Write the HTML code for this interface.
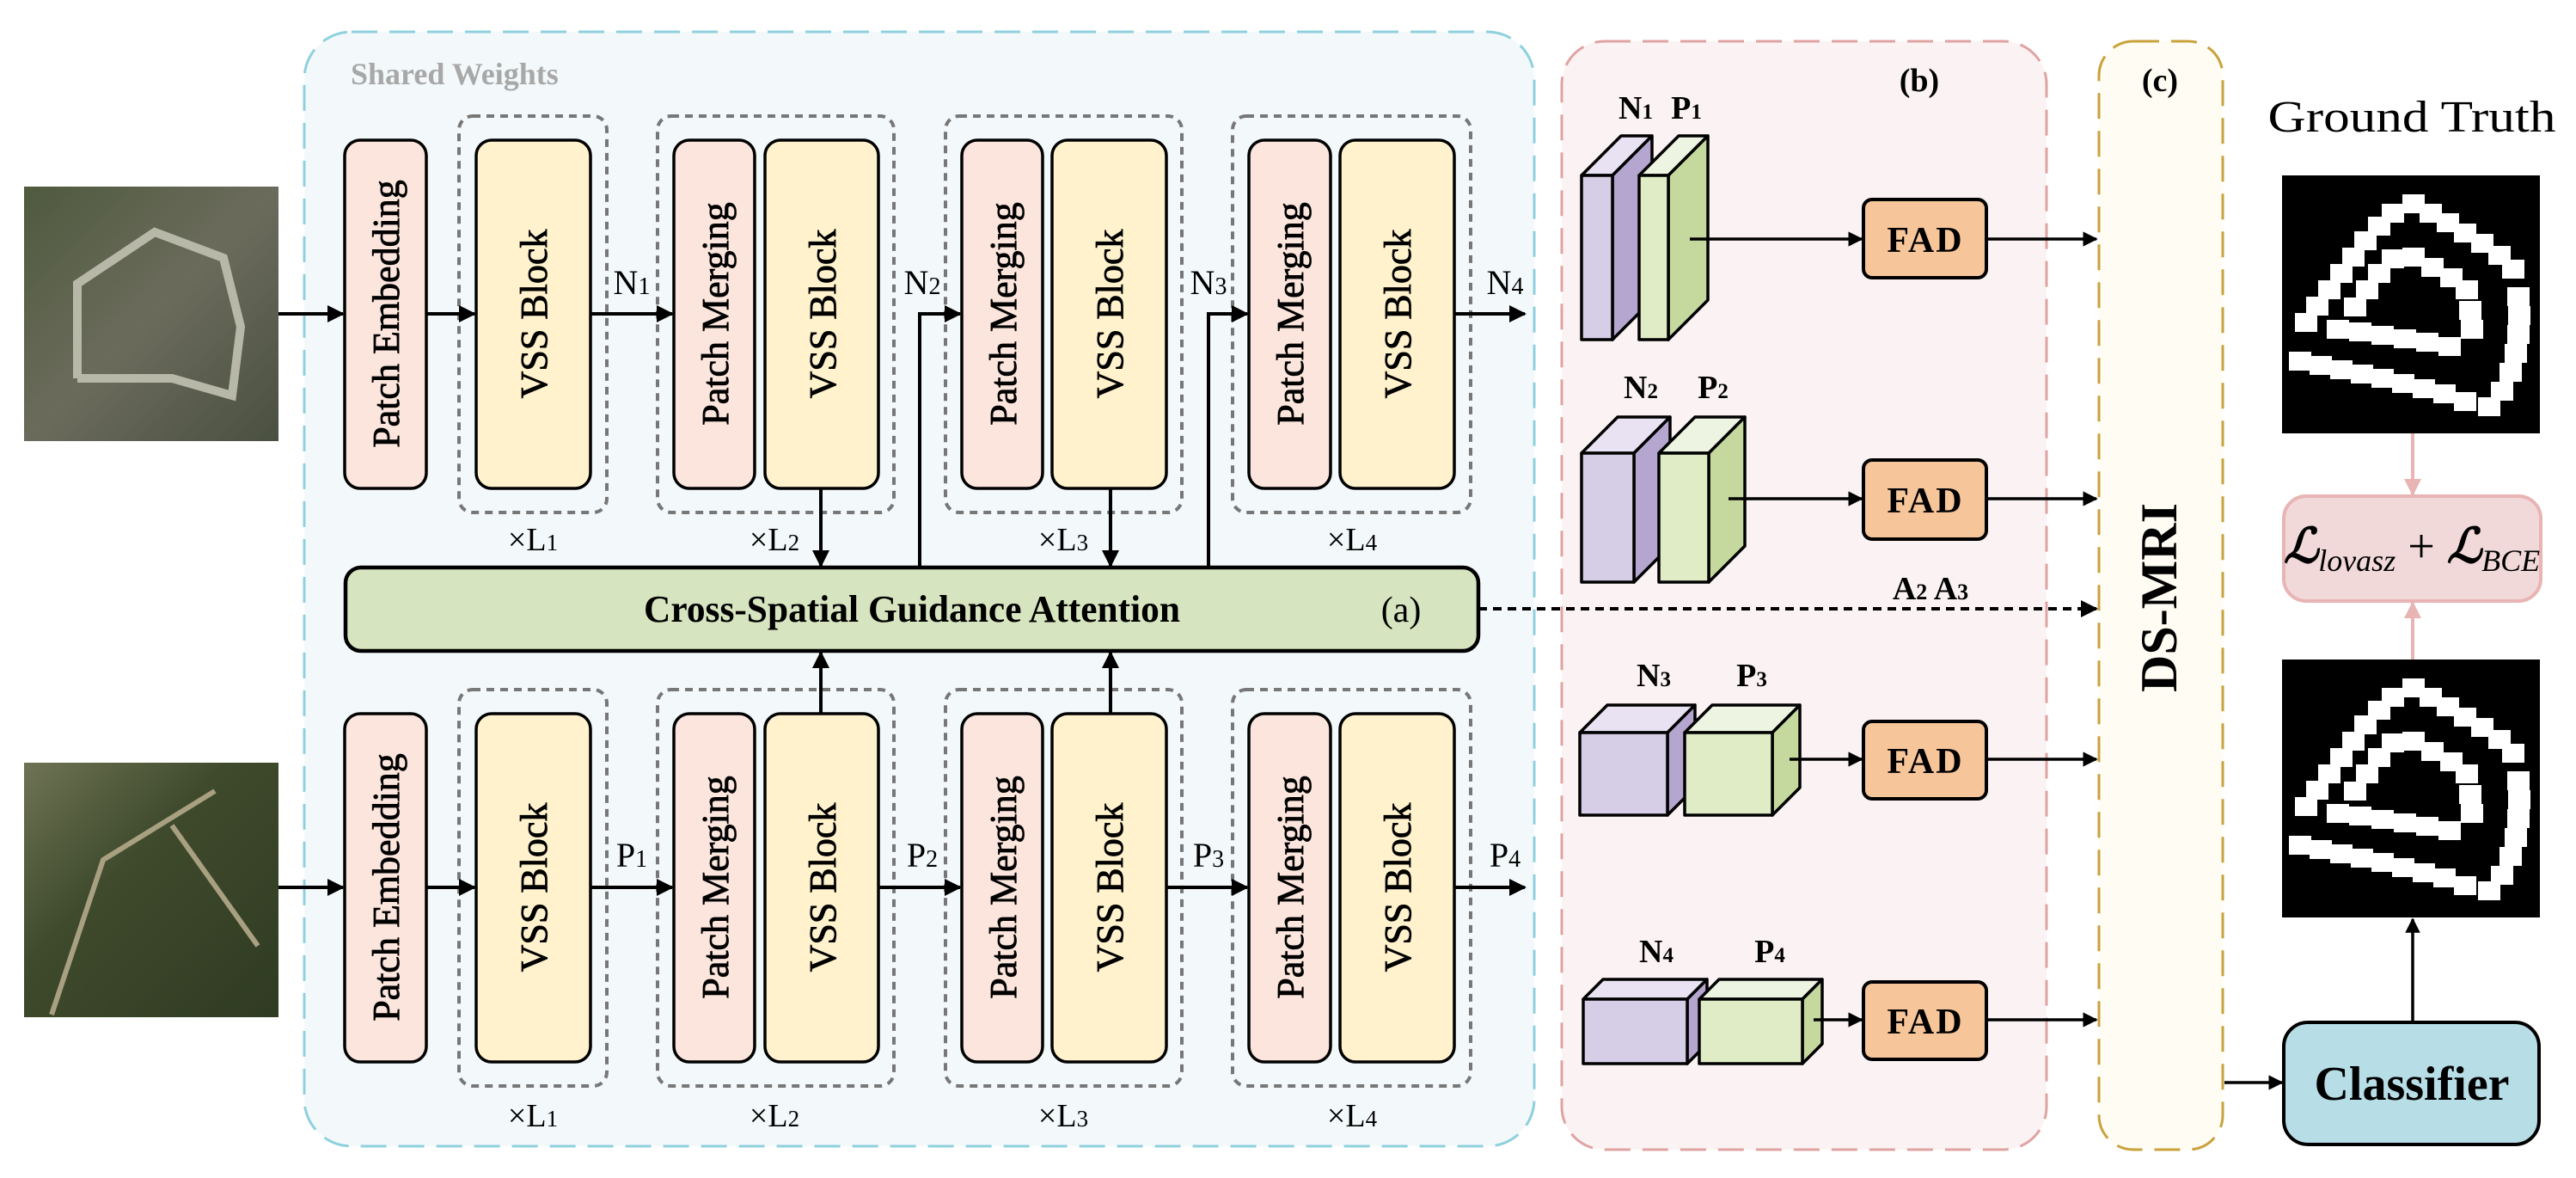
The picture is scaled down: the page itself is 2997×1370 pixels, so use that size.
<!DOCTYPE html>
<html><head><meta charset="utf-8"><style>
html,body{margin:0;padding:0;background:#fff}
svg{display:block}
text{font-family:"Liberation Serif",serif}
</style></head><body>
<svg width="2997" height="1370" viewBox="0 0 2997 1370" xmlns="http://www.w3.org/2000/svg">
<defs>
<marker id="ah" viewBox="0 0 10 10" refX="9" refY="5" markerWidth="5" markerHeight="5" orient="auto" markerUnits="strokeWidth"><path d="M0,0 L10,5 L0,10 z" fill="#000"/></marker>
<marker id="ahp" viewBox="0 0 10 10" refX="9" refY="5" markerWidth="5" markerHeight="5" orient="auto" markerUnits="strokeWidth"><path d="M0,0 L10,5 L0,10 z" fill="#e8b4b4"/></marker>
<g id="mask">
<rect x="0" y="0" width="300" height="300" fill="#000"/>
<g fill="#fff">
<rect x="15" y="160" width="26" height="22"/><rect x="28" y="141" width="26" height="22"/><rect x="42" y="122" width="26" height="22"/><rect x="56" y="103" width="26" height="22"/><rect x="70" y="84" width="26" height="22"/><rect x="84" y="65" width="26" height="22"/><rect x="100" y="48" width="26" height="22"/><rect x="116" y="33" width="26" height="22"/>
<rect x="140" y="22" width="26" height="22"/><rect x="160" y="33" width="26" height="22"/><rect x="180" y="44" width="26" height="22"/><rect x="200" y="56" width="26" height="22"/><rect x="220" y="68" width="26" height="22"/><rect x="240" y="82" width="26" height="22"/><rect x="256" y="98" width="26" height="22"/>
<rect x="262" y="130" width="26" height="22"/><rect x="263" y="152" width="26" height="22"/><rect x="262" y="174" width="26" height="22"/><rect x="259" y="196" width="26" height="22"/><rect x="253" y="218" width="26" height="22"/><rect x="243" y="240" width="26" height="22"/><rect x="228" y="258" width="26" height="22"/>
<rect x="8" y="205" width="26" height="22"/><rect x="32" y="210" width="26" height="22"/><rect x="56" y="215" width="26" height="22"/><rect x="80" y="220" width="26" height="22"/><rect x="104" y="225" width="26" height="22"/><rect x="128" y="231" width="26" height="22"/><rect x="152" y="237" width="26" height="22"/><rect x="176" y="243" width="26" height="22"/><rect x="200" y="252" width="26" height="22"/>
<rect x="72" y="142" width="26" height="22"/><rect x="86" y="122" width="26" height="22"/><rect x="100" y="103" width="26" height="22"/><rect x="116" y="86" width="26" height="22"/>
<rect x="140" y="84" width="26" height="22"/><rect x="162" y="96" width="26" height="22"/><rect x="184" y="108" width="26" height="22"/><rect x="202" y="122" width="26" height="22"/>
<rect x="206" y="146" width="26" height="22"/><rect x="208" y="168" width="26" height="22"/>
<rect x="52" y="168" width="26" height="22"/><rect x="78" y="171" width="26" height="22"/><rect x="104" y="175" width="26" height="22"/><rect x="130" y="179" width="26" height="22"/><rect x="156" y="183" width="26" height="22"/><rect x="182" y="188" width="26" height="22"/>
</g></g>
<linearGradient id="sat1" x1="0" y1="0" x2="1" y2="1"><stop offset="0" stop-color="#4f5a3e"/><stop offset="0.5" stop-color="#6b6b5c"/><stop offset="1" stop-color="#4a5040"/></linearGradient>
<linearGradient id="sat2" x1="0" y1="0" x2="1" y2="1"><stop offset="0" stop-color="#6f7355"/><stop offset="0.4" stop-color="#3f4a2c"/><stop offset="1" stop-color="#2f3b22"/></linearGradient>
</defs>

<rect x="354" y="37" width="1431" height="1296" rx="55" fill="#f3f9fa" stroke="#8fd0de" stroke-width="3" stroke-dasharray="30,14"/>
<text x="408" y="98" font-size="36" font-weight="bold" fill="#a8a8a8">Shared Weights</text>

<rect x="28" y="217" width="296" height="296" fill="url(#sat1)"/>
<path d="M90,440 L90,330 L180,270 L260,300 L280,380 L270,460 L200,440 L90,440" fill="none" stroke="#b8b8a8" stroke-width="10"/>
<rect x="28" y="887" width="296" height="296" fill="url(#sat2)"/>
<path d="M60,1180 L120,1000 L250,920 M200,960 L300,1100" fill="none" stroke="#a8a080" stroke-width="6"/>

<g stroke="#777" stroke-width="4" fill="none" stroke-dasharray="9,7">
<rect x="534" y="135" width="172" height="461" rx="16"/>
<rect x="765" y="135" width="275" height="461" rx="16"/>
<rect x="1100" y="135" width="275" height="461" rx="16"/>
<rect x="1434" y="135" width="277" height="461" rx="16"/>
<rect x="534" y="802" width="172" height="461" rx="16"/>
<rect x="765" y="802" width="275" height="461" rx="16"/>
<rect x="1100" y="802" width="275" height="461" rx="16"/>
<rect x="1434" y="802" width="277" height="461" rx="16"/>
</g>

<g stroke="#000" stroke-width="3.5">
<rect x="401" y="163" width="95" height="405" rx="18" fill="#fbe5dc"/>
<rect x="554" y="163" width="133" height="405" rx="18" fill="#fff2cc"/>
<rect x="784" y="163" width="94" height="405" rx="18" fill="#fbe5dc"/>
<rect x="890" y="163" width="132" height="405" rx="18" fill="#fff2cc"/>
<rect x="1119" y="163" width="94" height="405" rx="18" fill="#fbe5dc"/>
<rect x="1224" y="163" width="133" height="405" rx="18" fill="#fff2cc"/>
<rect x="1453" y="163" width="95" height="405" rx="18" fill="#fbe5dc"/>
<rect x="1559" y="163" width="133" height="405" rx="18" fill="#fff2cc"/>
<rect x="401" y="830" width="95" height="405" rx="18" fill="#fbe5dc"/>
<rect x="554" y="830" width="133" height="405" rx="18" fill="#fff2cc"/>
<rect x="784" y="830" width="94" height="405" rx="18" fill="#fbe5dc"/>
<rect x="890" y="830" width="132" height="405" rx="18" fill="#fff2cc"/>
<rect x="1119" y="830" width="94" height="405" rx="18" fill="#fbe5dc"/>
<rect x="1224" y="830" width="133" height="405" rx="18" fill="#fff2cc"/>
<rect x="1453" y="830" width="95" height="405" rx="18" fill="#fbe5dc"/>
<rect x="1559" y="830" width="133" height="405" rx="18" fill="#fff2cc"/>
<rect x="402" y="660" width="1318" height="97" rx="18" fill="#d6e4bf" stroke-width="4.5"/>
</g>

<g font-size="44" text-anchor="middle" fill="#000" stroke="#000" stroke-width="0.8">
<text transform="translate(464,365) rotate(-90)">Patch Embedding</text>
<text transform="translate(636,365) rotate(-90)">VSS Block</text>
<text transform="translate(847,365) rotate(-90)">Patch Merging</text>
<text transform="translate(972,365) rotate(-90)">VSS Block</text>
<text transform="translate(1182,365) rotate(-90)">Patch Merging</text>
<text transform="translate(1306,365) rotate(-90)">VSS Block</text>
<text transform="translate(1516,365) rotate(-90)">Patch Merging</text>
<text transform="translate(1641,365) rotate(-90)">VSS Block</text>
<text transform="translate(464,1032) rotate(-90)">Patch Embedding</text>
<text transform="translate(636,1032) rotate(-90)">VSS Block</text>
<text transform="translate(847,1032) rotate(-90)">Patch Merging</text>
<text transform="translate(972,1032) rotate(-90)">VSS Block</text>
<text transform="translate(1182,1032) rotate(-90)">Patch Merging</text>
<text transform="translate(1306,1032) rotate(-90)">VSS Block</text>
<text transform="translate(1516,1032) rotate(-90)">Patch Merging</text>
<text transform="translate(1641,1032) rotate(-90)">VSS Block</text>
</g>
<text x="1061" y="723" font-size="44" font-weight="bold" text-anchor="middle" textLength="624" lengthAdjust="spacingAndGlyphs">Cross-Spatial Guidance Attention</text>
<text x="1630" y="723" font-size="42" text-anchor="middle">(a)</text>

<g font-size="38" text-anchor="middle">
<text x="620" y="640">×L<tspan font-size="27">1</tspan></text>
<text x="901" y="640">×L<tspan font-size="27">2</tspan></text>
<text x="1237" y="640">×L<tspan font-size="27">3</tspan></text>
<text x="1573" y="640">×L<tspan font-size="27">4</tspan></text>
<text x="620" y="1310">×L<tspan font-size="27">1</tspan></text>
<text x="901" y="1310">×L<tspan font-size="27">2</tspan></text>
<text x="1237" y="1310">×L<tspan font-size="27">3</tspan></text>
<text x="1573" y="1310">×L<tspan font-size="27">4</tspan></text>
</g>
<g font-size="40" text-anchor="middle">
<text x="735" y="342">N<tspan font-size="28">1</tspan></text>
<text x="1073" y="342">N<tspan font-size="28">2</tspan></text>
<text x="1406" y="342">N<tspan font-size="28">3</tspan></text>
<text x="1751" y="342">N<tspan font-size="28">4</tspan></text>
<text x="735" y="1008">P<tspan font-size="28">1</tspan></text>
<text x="1073" y="1008">P<tspan font-size="28">2</tspan></text>
<text x="1406" y="1008">P<tspan font-size="28">3</tspan></text>
<text x="1751" y="1008">P<tspan font-size="28">4</tspan></text>
</g>

<g stroke="#000" stroke-width="4" fill="none" marker-end="url(#ah)">
<line x1="324" y1="365" x2="399" y2="365"/>
<line x1="496" y1="365" x2="552" y2="365"/>
<line x1="687" y1="365" x2="782" y2="365"/>
<polyline points="1070,660 1070,365 1117,365"/>
<polyline points="1406,660 1406,365 1451,365"/>
<line x1="1692" y1="365" x2="1774" y2="365"/>
<line x1="955" y1="568" x2="955" y2="658"/>
<line x1="1292" y1="568" x2="1292" y2="658"/>
<line x1="955" y1="830" x2="955" y2="759"/>
<line x1="1292" y1="830" x2="1292" y2="759"/>
<line x1="324" y1="1032" x2="399" y2="1032"/>
<line x1="496" y1="1032" x2="552" y2="1032"/>
<line x1="687" y1="1032" x2="782" y2="1032"/>
<line x1="1022" y1="1032" x2="1117" y2="1032"/>
<line x1="1357" y1="1032" x2="1451" y2="1032"/>
<line x1="1692" y1="1032" x2="1774" y2="1032"/>
</g>

<rect x="1817" y="48" width="564" height="1289" rx="50" fill="#fbf3f3" stroke="#e0a3a3" stroke-width="3" stroke-dasharray="30,14"/>
<text x="2233" y="106" font-size="38" font-weight="bold" text-anchor="middle">(b)</text>
<rect x="2442" y="48" width="144" height="1289" rx="40" fill="#fffdf3" stroke="#c9a23c" stroke-width="3" stroke-dasharray="30,14"/>
<text x="2513" y="106" font-size="38" font-weight="bold" text-anchor="middle">(c)</text>
<text transform="translate(2532,695) rotate(-90)" font-size="60" font-weight="bold" text-anchor="middle">DS-MRI</text>

<line x1="1720" y1="708" x2="2439" y2="708" stroke="#000" stroke-width="4" stroke-dasharray="10,7" marker-end="url(#ah)"/>
<text x="2246" y="697" font-size="38" font-weight="bold" text-anchor="middle">A<tspan font-size="26">2</tspan> A<tspan font-size="26">3</tspan></text>

<g stroke="#000" stroke-width="3.5" stroke-linejoin="round">
<polygon points="1840,204 1886,158 1922,158 1876,204" fill="#e8e2f2"/>
<polygon points="1876,204 1922,158 1922,349 1876,395" fill="#b5a6d0"/>
<rect x="1840" y="204" width="36" height="191" fill="#d6cde6"/>
<polygon points="1907,204 1953,158 1987,158 1941,204" fill="#eef4e2"/>
<polygon points="1941,204 1987,158 1987,349 1941,395" fill="#c5d99e"/>
<rect x="1907" y="204" width="34" height="191" fill="#e0ecc6"/>
<polygon points="1840,527 1882,485 1943,485 1901,527" fill="#e8e2f2"/>
<polygon points="1901,527 1943,485 1943,635 1901,677" fill="#b5a6d0"/>
<rect x="1840" y="527" width="61" height="150" fill="#d6cde6"/>
<polygon points="1930,527 1972,485 2030,485 1988,527" fill="#eef4e2"/>
<polygon points="1988,527 2030,485 2030,635 1988,677" fill="#c5d99e"/>
<rect x="1930" y="527" width="58" height="150" fill="#e0ecc6"/>
<polygon points="1838,852 1870,820 1972,820 1940,852" fill="#e8e2f2"/>
<polygon points="1940,852 1972,820 1972,916 1940,948" fill="#b5a6d0"/>
<rect x="1838" y="852" width="102" height="96" fill="#d6cde6"/>
<polygon points="1960,852 1992,820 2094,820 2062,852" fill="#eef4e2"/>
<polygon points="2062,852 2094,820 2094,916 2062,948" fill="#c5d99e"/>
<rect x="1960" y="852" width="102" height="96" fill="#e0ecc6"/>
<polygon points="1842,1162 1865,1139 1986,1139 1963,1162" fill="#e8e2f2"/>
<polygon points="1963,1162 1986,1139 1986,1214 1963,1237" fill="#b5a6d0"/>
<rect x="1842" y="1162" width="121" height="75" fill="#d6cde6"/>
<polygon points="1977,1162 2000,1139 2120,1139 2097,1162" fill="#eef4e2"/>
<polygon points="2097,1162 2120,1139 2120,1214 2097,1237" fill="#c5d99e"/>
<rect x="1977" y="1162" width="120" height="75" fill="#e0ecc6"/>
</g>
<g font-size="38" font-weight="bold" text-anchor="middle">
<text x="1903" y="138">N<tspan font-size="25">1</tspan></text><text x="1962" y="138">P<tspan font-size="25">1</tspan></text>
<text x="1909" y="463">N<tspan font-size="25">2</tspan></text><text x="1993" y="463">P<tspan font-size="25">2</tspan></text>
<text x="1924" y="798">N<tspan font-size="25">3</tspan></text><text x="2038" y="798">P<tspan font-size="25">3</tspan></text>
<text x="1927" y="1119">N<tspan font-size="25">4</tspan></text><text x="2059" y="1119">P<tspan font-size="25">4</tspan></text>
</g>

<g stroke="#000" stroke-width="4" fill="#f7c59a">
<rect x="2168" y="232" width="143" height="91" rx="10"/>
<rect x="2168" y="535" width="143" height="92" rx="10"/>
<rect x="2168" y="839" width="143" height="90" rx="10"/>
<rect x="2168" y="1142" width="143" height="90" rx="10"/>
</g>
<g font-size="42" font-weight="bold" text-anchor="middle" letter-spacing="2">
<text x="2240" y="293">FAD</text><text x="2240" y="596">FAD</text><text x="2240" y="899">FAD</text><text x="2240" y="1202">FAD</text>
</g>
<g stroke="#000" stroke-width="3.5" fill="none" marker-end="url(#ah)">
<line x1="1966" y1="278" x2="2166" y2="278"/>
<line x1="2011" y1="580" x2="2166" y2="580"/>
<line x1="2082" y1="883" x2="2166" y2="883"/>
<line x1="2110" y1="1186" x2="2166" y2="1186"/>
<line x1="2311" y1="278" x2="2439" y2="278"/>
<line x1="2311" y1="580" x2="2439" y2="580"/>
<line x1="2311" y1="883" x2="2439" y2="883"/>
<line x1="2311" y1="1186" x2="2439" y2="1186"/>
<line x1="2588" y1="1259" x2="2655" y2="1259"/>
<line x1="2807" y1="1189" x2="2807" y2="1069"/>
</g>

<text x="2806" y="153" font-size="52" text-anchor="middle" textLength="335" lengthAdjust="spacingAndGlyphs">Ground Truth</text>
<use href="#mask" transform="translate(2655,204)"/>
<use href="#mask" transform="translate(2655,767)"/>
<g stroke="#e8b4b4" stroke-width="4" fill="none" marker-end="url(#ahp)">
<line x1="2807" y1="504" x2="2807" y2="575"/>
<line x1="2807" y1="767" x2="2807" y2="701"/>
</g>
<rect x="2657" y="577" width="299" height="122" rx="26" fill="#f2d9d9" stroke="#e8b4b4" stroke-width="4"/>
<text x="2806" y="654" font-size="56" text-anchor="middle" font-style="italic"><tspan font-weight="bold">ℒ</tspan><tspan font-size="36" dy="10">lovasz</tspan><tspan dy="-10" font-style="normal"> + </tspan><tspan font-weight="bold">ℒ</tspan><tspan font-size="36" dy="10">BCE</tspan></text>
<rect x="2657" y="1189" width="297" height="142" rx="28" fill="#b7dde6" stroke="#000" stroke-width="4"/>
<text x="2806" y="1279" font-size="56" font-weight="bold" text-anchor="middle">Classifier</text>
</svg>
</body></html>
